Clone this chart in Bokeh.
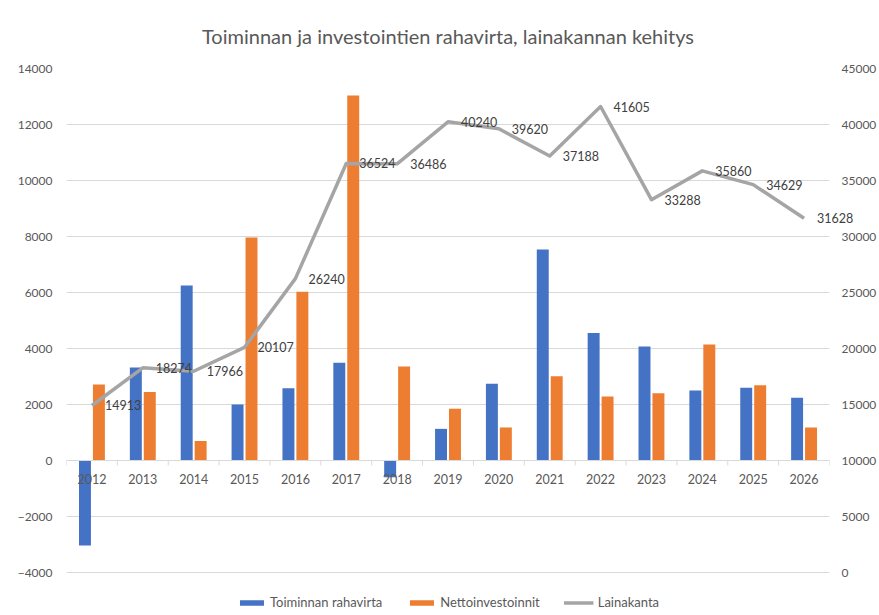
from bokeh.plotting import figure
from bokeh.models import (ColumnDataSource, Range1d, LinearAxis, FixedTicker,
                          Legend, LegendItem, Span)
from bokeh.transform import dodge
from bokeh.core.properties import value
from bokeh.embed import file_html
from bokeh.resources import INLINE

# ---------------- data ----------------
years = ["2012", "2013", "2014", "2015", "2016", "2017", "2018", "2019",
         "2020", "2021", "2022", "2023", "2024", "2025", "2026"]
toiminnan_rahavirta = [-3040, 3320, 6250, 2000, 2580, 3490, -600, 1130,
                       2740, 7540, 4550, 4070, 2500, 2600, 2240]
nettoinvestoinnit = [2710, 2450, 700, 7960, 6030, 13040, 3360, 1850,
                     1180, 3010, 2290, 2400, 4140, 2690, 1180]
lainakanta = [14913, 18274, 17966, 20107, 26240, 36524, 36486, 40240,
              39620, 37188, 41605, 33288, 35860, 34629, 31628]
left_ticks = [-4000, -2000, 0, 2000, 4000, 6000, 8000, 10000, 12000, 14000]
right_ticks = [0, 5000, 10000, 15000, 20000, 25000, 30000, 35000, 40000, 45000]
title_text = "Toiminnan ja investointien rahavirta, lainakannan kehitys"

# ---------------- styling ----------------
BLUE = "#4472C4"
ORANGE = "#ED7D31"
GRAY = "#A5A5A5"
TXT = "#595959"
LBL = "#404040"
GRID = "#D9D9D9"
FONT = "Lato"

W, H = 879, 615
ML, MR, MT = 66, 48, 68
AXIS_H = 504          # pixel height of the -4000 .. 14000 axis span
LEGEND_H = H - MT - AXIS_H   # strip below the axis span that holds the legend

idx = list(range(len(years)))
src = ColumnDataSource(dict(
    x=idx, years=years, t=toiminnan_rahavirta, n=nettoinvestoinnit,
    l=lainakanta, ltxt=[str(v) for v in lainakanta],
    zero=[0] * len(years),
))

ymin, ymax = left_ticks[0], left_ticks[-1]
rmin, rmax = right_ticks[0], right_ticks[-1]
px_per_unit = AXIS_H / (ymax - ymin)
extra = LEGEND_H / px_per_unit
extra_r = extra * (rmax - rmin) / (ymax - ymin)

p = figure(width=W, height=H, output_backend="svg", toolbar_location=None,
           x_range=Range1d(-0.5, len(years) - 0.5),
           y_range=Range1d(ymin - extra, ymax),
           x_axis_location=None,
           min_border_left=ML, min_border_right=MR,
           min_border_top=MT, min_border_bottom=0)
p.extra_y_ranges = {"right": Range1d(rmin - extra_r, rmax)}
p.outline_line_color = None
p.background_fill_color = "white"
p.border_fill_color = "white"

# title
p.title.text = title_text
p.title.align = "center"
p.title.text_font = FONT
p.title.text_font_size = "20px"
p.title.text_font_style = "normal"
p.title.text_color = TXT
p.title.standoff = 42

# axes
p.xgrid.visible = False
ya = p.yaxis[0]
ya.ticker = FixedTicker(ticks=left_ticks)
ya.axis_line_color = None
ya.major_tick_line_color = None
ya.minor_tick_line_color = None
ya.major_tick_out = 0
ya.major_tick_in = 0
ya.minor_tick_out = 0
ya.major_label_text_font = FONT
ya.major_label_text_font_size = "12px"
ya.major_label_text_color = TXT
ya.major_label_standoff = 14
p.ygrid.ticker = FixedTicker(ticks=left_ticks)
p.ygrid.grid_line_color = GRID
p.ygrid.grid_line_width = 1

ra = LinearAxis(y_range_name="right", ticker=FixedTicker(ticks=right_ticks))
ra.axis_line_color = None
ra.major_tick_line_color = None
ra.minor_tick_line_color = None
ra.major_tick_out = 0
ra.major_tick_in = 0
ra.minor_tick_out = 0
ra.major_label_text_font = FONT
ra.major_label_text_font_size = "12px"
ra.major_label_text_color = TXT
ra.major_label_standoff = 12
p.add_layout(ra, "right")

# bars
bw = 0.235
off = 0.137
rb = p.vbar(x=dodge("x", -off, range=p.x_range), top="t", bottom=0, width=bw,
            source=src, fill_color=BLUE, line_color=None)
ro = p.vbar(x=dodge("x", off, range=p.x_range), top="n", bottom=0, width=bw,
            source=src, fill_color=ORANGE, line_color=None)

# category axis drawn at y = 0
p.add_layout(Span(location=0, dimension="width", line_color=GRID, line_width=1))
tick_len = 5 / px_per_unit
bounds = [i - 0.5 for i in range(len(years) + 1)]
p.segment(x0=bounds, y0=[0] * len(bounds), x1=bounds,
          y1=[-tick_len] * len(bounds), line_color=GRID, line_width=1)
p.text(x="x", y="zero", text="years", source=src, y_offset=18,
       text_align="center", text_baseline="middle",
       text_font=value(FONT), text_font_size="12.5px", text_color=TXT)

# line + labels
rl = p.line(x="x", y="l", source=src, y_range_name="right",
            line_color=GRAY, line_width=3.5, line_join="round")
p.text(x="x", y="l", text="ltxt", source=src, y_range_name="right",
       x_offset=13, text_align="left", text_baseline="middle",
       text_font=value(FONT), text_font_size="12.5px", text_color=LBL,
       level="overlay")

# legend in the strip below the axis span
legend = Legend(items=[
    LegendItem(label="Toiminnan rahavirta", renderers=[rb]),
    LegendItem(label="Nettoinvestoinnit", renderers=[ro]),
    LegendItem(label="Lainakanta", renderers=[rl]),
], orientation="horizontal", location="bottom_center")
legend.glyph_width = 30
legend.glyph_height = 7
legend.label_standoff = 4
legend.spacing = 24
legend.padding = 2
legend.margin = 5
legend.border_line_color = None
legend.background_fill_alpha = 0
legend.label_text_font = FONT
legend.label_text_font_size = "13px"
legend.label_text_color = TXT
p.add_layout(legend)

open("out.html", "w").write(file_html(p, INLINE))
